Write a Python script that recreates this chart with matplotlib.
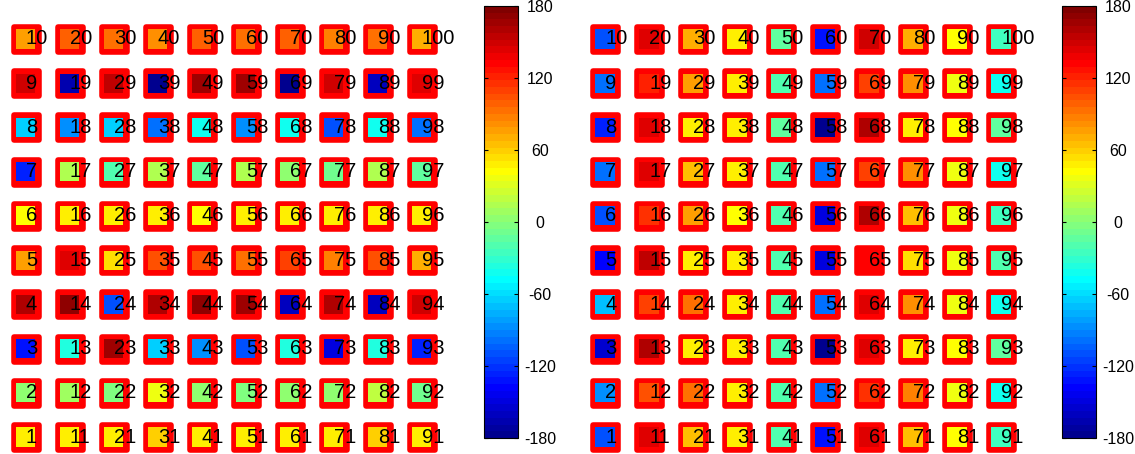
import numpy as np
import matplotlib
matplotlib.use('Agg')
import matplotlib.pyplot as plt
from matplotlib.colors import ListedColormap

plt.rcParams['font.family'] = ['Liberation Sans', 'DejaVu Sans']
plt.rcParams['axes.unicode_minus'] = False

# cell numbers 1..100, column-major from the bottom left
cell_ids = np.arange(1, 101)
grid_col = (cell_ids - 1) // 10 + 1
grid_row = (cell_ids - 1) % 10 + 1

# values (degrees), cell 1..100
left_vals = [45, 0, -132, 160, 78, 42, -124, -62, 150, 78,
             45, 8, -36, 172, 141, 45, 12, -86, -166, 98,
             45, -3, 165, -112, 53, 45, -22, -62, 155, 93,
             58, 37, -62, 160, 104, 45, 14, -100, -175, 82,
             45, 0, -86, 172, 104, 42, -14, -45, 168, 98,
             45, -3, -108, 168, 93, 45, 12, -86, 168, 93,
             45, 5, -36, -160, 110, 45, 5, -45, -175, 98,
             45, 5, -150, 160, 87, 45, -8, -112, 150, 87,
             60, 20, -36, -160, 106, 50, 14, -45, -160, 93,
             45, -8, -124, 150, 70, 45, -14, -100, 145, 70]

right_vals = [-110, -86, -152, -70, -138, -112, -96, -124, -96, -110,
              145, 106, 160, 110, 157, 118, 141, 141, 122, 141,
              64, 93, 45, 93, 45, 76, 64, 45, 76, 70,
              45, 45, 45, 45, 45, 40, 45, 45, 45, 45,
              -17, -17, -17, -17, -20, -20, -17, -14, -17, -14,
              -132, -96, -175, -96, -149, -149, -100, -175, -100, -132,
              145, 118, 145, 141, 132, 160, 110, 160, 110, 150,
              64, 87, 45, 84, 53, 64, 82, 45, 82, 70,
              40, 37, 40, 37, 37, 37, 34, 40, 37, 40,
              -25, -45, -12, -45, -17, -25, -45, -12, -45, -25]

cbar_ticks = [-180, -120, -60, 0, 60, 120, 180]


def matlab_jet(m=64):
    # same construction as matlab's jet(m)
    n = int(np.ceil(m / 4))
    u = np.concatenate([np.arange(1, n + 1) / n, np.ones(n - 1), np.arange(n, 0, -1) / n])
    g = int(np.ceil(n / 2)) - (m % 4 == 1) + np.arange(1, len(u) + 1)
    r = g + n
    b = g - n
    rgb = np.zeros((m, 3))
    for idx, ch in ((r, 0), (g, 1), (b, 2)):
        ok = (idx >= 1) & (idx <= m)
        rgb[idx[ok] - 1, ch] = u[ok]
    return ListedColormap(rgb)


cmap = matlab_jet(64)

W, H = 1135, 454
fig = plt.figure(figsize=(W / 100, H / 100), dpi=100)


def px_axes(x0, y0, x1, y1):
    # pixel box (top-left origin) -> figure axes
    return fig.add_axes([x0 / W, 1 - y1 / H, (x1 - x0) / W, (y1 - y0) / H])


def draw_panel(ax_box, cb_box, vals):
    ax = px_axes(*ax_box)
    ax.scatter(grid_col, grid_row, s=18 ** 2, marker='s', c='red',
               edgecolors='red', linewidths=4, zorder=1)
    sc = ax.scatter(grid_col, grid_row, s=13.7 ** 2, marker='s', c=vals,
                    cmap=cmap, vmin=-180, vmax=180, linewidths=0, zorder=2)
    for k, cx, cy in zip(cell_ids, grid_col, grid_row):
        ax.text(cx + 0.01, cy, str(k), fontsize=14.5, ha='left', va='center', zorder=3)
    ax.set_xlim(0.5, 10.5)
    ax.set_ylim(0.6, 10.4)
    ax.axis('off')

    cax = px_axes(*cb_box)
    cb = fig.colorbar(sc, cax=cax, ticks=cbar_ticks)
    cb.outline.set_linewidth(0.8)
    cax.tick_params(direction='in', left=True, right=True, length=3,
                    width=0.8, labelsize=11.5, pad=16)
    for lab in cax.get_yticklabels():
        lab.set_horizontalalignment('center')


# column centres 25.5..421.5 px, row centres 437..39 px
draw_panel((3.5, 21.3, 443.5, 454.7), (484, 6, 518, 438), left_vals)
draw_panel((583, 21.3, 1023, 454.7), (1062, 6, 1096, 438), right_vals)

fig.savefig('out.png', dpi=100)
